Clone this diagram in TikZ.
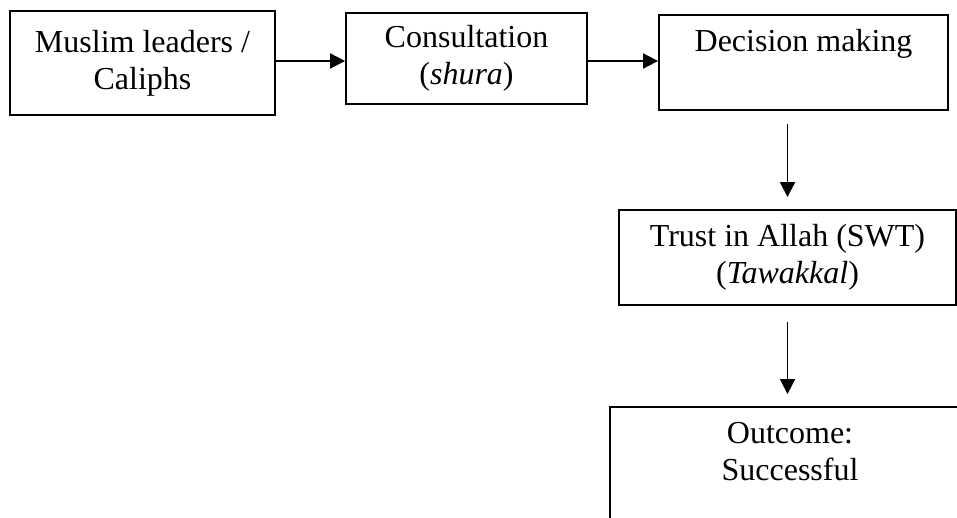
\documentclass[tikz,border=0pt]{standalone}
\usepackage{fontspec}
\setmainfont{Liberation Serif}
\usetikzlibrary{arrows.meta}
\newcommand{\pxu}{0.375pt}

\begin{document}
\begin{tikzpicture}[
    x=\pxu, y=-\pxu,
    stagebox/.style={draw, rectangle, line width=0.7pt, inner sep=0pt, align=center, font=\fontsize{12}{13.8}\selectfont},
    flowarr/.style={-{Triangle[length=5.6pt,width=5.6pt]}, line width=0.7pt}
]
    \path[use as bounding box, clip] (0,0) rectangle (957,517);

    \node[stagebox, minimum width=265*\pxu, minimum height=104*\pxu] (leaders) at (142.5,63) {Muslim leaders /\\Caliphs};
    \node[stagebox, minimum width=241*\pxu, minimum height=91*\pxu] (shura) at (466.5,58.5) {Consultation\\(\textit{shura})};
    \node[stagebox, minimum width=289*\pxu, minimum height=95*\pxu] (decision) at (803.5,62.5) {\strut Decision making\\\strut};
    \node[stagebox, minimum width=337*\pxu, minimum height=95*\pxu] (tawakkal) at (787.5,257.5) {Trust in Allah (SWT)\\(\textit{Tawakkal})};
    \node[stagebox, minimum width=360*\pxu, minimum height=136*\pxu] (outcome) at (790,475) {Outcome:\\Successful\\\strut};

    \coordinate (row) at (0,61);
    \draw[flowarr] (leaders.east |- row) -- (shura.west |- row);
    \draw[flowarr] (shura.east |- row) -- (decision.west |- row);
    \draw[flowarr, shorten <=13*\pxu, shorten >=12*\pxu] (decision.south -| tawakkal.north) -- (tawakkal.north);
    \draw[flowarr, shorten <=16*\pxu, shorten >=12*\pxu] (tawakkal.south) -- (tawakkal.south |- outcome.north);
\end{tikzpicture}
\end{document}
